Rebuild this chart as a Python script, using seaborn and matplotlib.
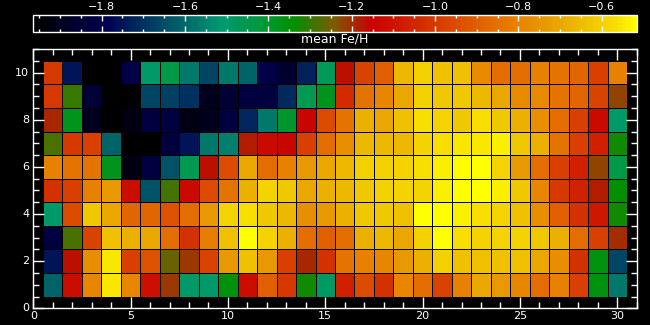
import numpy as np
import pandas as pd
import matplotlib
matplotlib.use("Agg")
import matplotlib.pyplot as plt
import seaborn as sns
from matplotlib.colors import LinearSegmentedColormap

# ---------------- data (mean Fe/H per cell), rows from y=10 (top) to y=1 ----------------
x_cols = list(range(1, 31))
y_rows = list(range(10, 0, -1))

row10 = [-1.00, -1.75, -1.96, -1.96, -1.80, -1.50, -1.44, -1.57, -1.66, -1.57,
         -1.61, -1.81, -1.86, -1.73, -1.47, -1.17, -0.97, -0.90, -0.66, -0.60,
         -0.64, -0.64, -0.78, -0.86, -0.86, -0.81, -0.84, -0.88, -0.98, -0.81]
row9 = [-1.00, -1.30, -1.85, -1.96, -1.96, -1.66, -1.67, -1.70, -1.90, -1.85,
        -1.82, -1.82, -1.71, -1.46, -1.38, -1.04, -0.84, -0.79, -0.70, -0.60,
        -0.62, -0.62, -0.66, -0.70, -0.78, -0.78, -0.84, -0.88, -0.97, -1.22]
row8 = [-1.19, -1.38, -1.90, -1.96, -1.92, -1.82, -1.82, -1.92, -1.90, -1.82,
        -1.72, -1.57, -1.40, -1.14, -0.95, -0.84, -0.68, -0.70, -0.64, -0.57,
        -0.59, -0.62, -0.57, -0.62, -0.68, -0.77, -0.86, -0.98, -1.13, -1.50]
row7 = [-1.28, -1.00, -0.98, -1.61, -1.96, -1.96, -1.83, -1.75, -1.57, -1.56,
        -1.18, -1.13, -1.14, -0.98, -0.86, -0.77, -0.66, -0.66, -0.66, -0.59,
        -0.57, -0.55, -0.55, -0.54, -0.62, -0.68, -0.84, -0.98, -1.07, -1.33]
row6 = [-0.81, -0.84, -0.84, -1.38, -1.92, -1.82, -1.64, -1.46, -1.17, -0.95,
        -0.70, -0.86, -0.81, -0.74, -0.70, -0.66, -0.60, -0.60, -0.59, -0.57,
        -0.54, -0.52, -0.52, -0.59, -0.74, -0.86, -0.98, -1.07, -1.22, -1.44]
row5 = [-1.02, -0.98, -0.81, -0.74, -1.12, -1.64, -1.29, -1.13, -0.95, -0.84,
        -0.68, -0.59, -0.62, -0.70, -0.68, -0.66, -0.62, -0.60, -0.59, -0.59,
        -0.54, -0.52, -0.52, -0.54, -0.62, -0.79, -1.00, -1.06, -1.18, -1.34]
row4 = [-1.50, -0.95, -0.62, -0.70, -0.88, -0.88, -0.93, -0.86, -0.74, -0.59,
        -0.57, -0.62, -0.66, -0.77, -0.74, -0.68, -0.62, -0.62, -0.64, -0.52,
        -0.52, -0.54, -0.57, -0.59, -0.64, -0.77, -0.90, -1.02, -1.09, -1.33]
row3 = [-1.82, -1.28, -0.97, -0.64, -0.68, -0.70, -0.86, -1.02, -0.82, -0.64,
        -0.52, -0.59, -0.68, -0.86, -0.90, -0.86, -0.68, -0.66, -0.70, -0.60,
        -0.52, -0.57, -0.59, -0.59, -0.59, -0.62, -0.68, -0.86, -0.98, -1.20]
row2 = [-1.75, -1.17, -0.77, -0.55, -0.98, -0.93, -1.26, -1.21, -0.97, -0.74,
        -0.64, -0.74, -0.98, -1.19, -1.02, -0.84, -0.81, -0.79, -0.74, -0.68,
        -0.60, -0.64, -0.64, -0.64, -0.64, -0.70, -0.77, -1.02, -1.36, -1.66]
row1 = [-1.61, -1.12, -0.79, -0.55, -0.79, -1.11, -1.21, -1.50, -1.50, -1.36,
        -1.12, -0.90, -1.00, -1.33, -1.49, -1.07, -0.95, -1.02, -0.79, -0.86,
        -0.97, -0.81, -0.70, -0.74, -0.79, -0.86, -0.81, -0.98, -1.36, -1.57]

cbar_ticks = [-1.8, -1.6, -1.4, -1.2, -1.0, -0.8, -0.6]
cbar_tick_labels = ["\u22121.8", "\u22121.6", "\u22121.4", "\u22121.2", "\u22121.0", "\u22120.8", "\u22120.6"]
x_major = [0, 5, 10, 15, 20, 25, 30]
y_major = [0, 2, 4, 6, 8, 10]
vmin, vmax = -1.964, -0.516
label = "mean Fe/H"

df = pd.DataFrame([row10, row9, row8, row7, row6, row5, row4, row3, row2, row1],
                  index=y_rows, columns=x_cols)

# ---------------- colormap ----------------
stops = [
    (0.00, (0x00, 0x00, 0x00)),
    (0.12, (0x00, 0x00, 0x50)),
    (0.18, (0x00, 0x30, 0x60)),
    (0.24, (0x00, 0x60, 0x68)),
    (0.31, (0x00, 0x99, 0x70)),
    (0.37, (0x00, 0x99, 0x40)),
    (0.43, (0x00, 0x90, 0x00)),
    (0.50, (0x80, 0x58, 0x00)),
    (0.56, (0xc8, 0x00, 0x00)),
    (0.68, (0xd8, 0x40, 0x00)),
    (0.80, (0xe8, 0x80, 0x00)),
    (0.85, (0xe8, 0x99, 0x00)),
    (0.93, (0xf0, 0xc8, 0x00)),
    (0.97, (0xf8, 0xe0, 0x00)),
    (1.00, (0xff, 0xff, 0x00)),
]
cmap = LinearSegmentedColormap.from_list(
    "feh", [(p, tuple(c / 255 for c in col)) for p, col in stops])

# ---------------- figure ----------------
plt.rcParams["font.family"] = ["DejaVu Sans"]
fig = plt.figure(figsize=(6.5, 3.25), dpi=100, facecolor="black")
L, W = 33.3 / 650, (636.7 - 33.3) / 650
ax = fig.add_axes([L, (325 - 308.3) / 325, W, (308.3 - 49) / 325])
cax = fig.add_axes([L, (325 - 31.7) / 325, W, 16.7 / 325])
ax.set_facecolor("black")

sns.heatmap(df, ax=ax, cmap=cmap, vmin=vmin, vmax=vmax,
            linewidths=0.7, linecolor="black", cbar_ax=cax,
            cbar_kws={"orientation": "horizontal"})

# data coordinates: heatmap x = value - 0.5 ; heatmap y = 10.5 - value
ax.set_xlim(-0.5, 30.5)
ax.set_ylim(10.5, -0.5)
ax.set_xticks([v - 0.5 for v in x_major])
ax.set_xticklabels([str(v) for v in x_major])
ax.set_xticks([v - 0.5 for v in range(0, 32)], minor=True)
ax.set_yticks([10.5 - v for v in y_major])
ax.set_yticklabels([str(v) for v in y_major], rotation=0)
ax.set_yticks([10.5 - v * 0.5 for v in range(0, 23)], minor=True)
ax.set_xlabel("")
ax.set_ylabel("")
for s in ax.spines.values():
    s.set_visible(True)
    s.set_color("white")
    s.set_linewidth(1.0)
ax.tick_params(which="both", direction="in", colors="white", top=True, right=True,
               labelsize=8, width=1)
ax.tick_params(which="major", length=8)
ax.tick_params(which="minor", length=4)
ax.tick_params(axis="x", pad=2)
ax.tick_params(axis="y", pad=3)

# ---------------- colorbar ----------------
cbar = ax.collections[0].colorbar
cbar.outline.set_edgecolor("white")
cbar.outline.set_linewidth(1.0)
cbar.set_ticks(cbar_ticks)
cbar.set_ticklabels(cbar_tick_labels)
cbar.set_ticks(list(np.round(np.arange(-1.95, -0.55, 0.05), 2)), minor=True)
cax.xaxis.set_ticks_position("both")
cax.tick_params(which="both", direction="in", colors="white", top=True, bottom=True,
                labeltop=True, labelbottom=False, labelsize=8, width=1, pad=2)
cax.tick_params(which="major", length=4)
cax.tick_params(which="minor", length=2)
fig.text(L + W / 2, (325 - 39) / 325, label, color="white", ha="center", va="center",
         fontsize=9)

fig.savefig("out.png", dpi=100, facecolor="black")
